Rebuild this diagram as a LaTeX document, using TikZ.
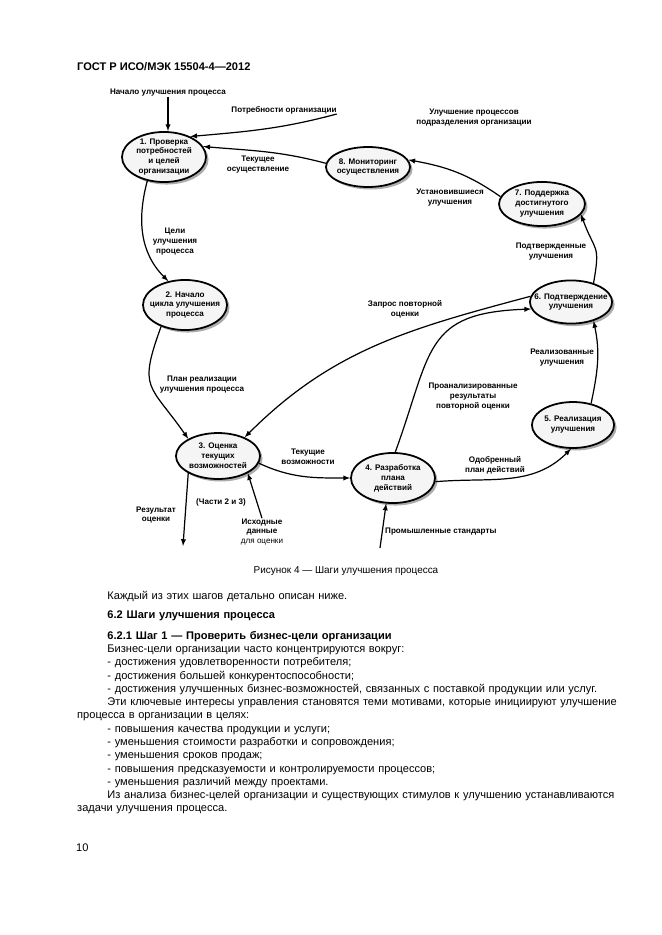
\documentclass[tikz,border=0pt]{standalone}
\usepackage{fontspec}
\setmainfont{Liberation Sans}
\usepackage{tikz}
\usetikzlibrary{shapes.geometric,shadows,arrows}

\begin{document}
\begin{tikzpicture}[x=0.3177mm, y=0.3177mm, >=latex,
  stage/.style={ellipse, draw, line width=1.6pt, fill=gray!8, inner sep=0pt,
    drop shadow={shadow xshift=0.8mm, shadow yshift=-0.8mm, opacity=1, fill=gray!65}},
  lbl/.style={align=center, inner sep=0pt, font=\fontsize{7.3}{9}\selectfont\bfseries},
  flow/.style={line width=1.1pt},
  txt/.style={inner sep=0pt, font=\fontsize{10}{12}\selectfont}]

  \useasboundingbox (0,0) rectangle (661,-935);

  \node[txt, anchor=base west, font=\fontsize{10}{12}\selectfont\bfseries] (head) at (77,-71) {ГОСТ Р ИСО/МЭК 15504-4—2012};

  \node[stage, minimum width=26.7mm, minimum height=15.9mm, label={[lbl]center:{1. Проверка\\потребностей\\и целей\\организации}}] (n1) at (164,-157) {};
  \node[stage, minimum width=26.7mm, minimum height=15.9mm, label={[lbl]center:{2. Начало\\цикла улучшения\\процесса}}] (n2) at (185,-305) {};
  \node[stage, minimum width=26.7mm, minimum height=14.6mm, label={[lbl]center:{3. Оценка\\текущих\\возможностей}}] (n3) at (218,-456) {};
  \node[stage, minimum width=26.7mm, minimum height=15.9mm, label={[lbl]center:{4. Разработка\\плана\\действий}}] (n4) at (393,-478) {};
  \node[stage, minimum width=26.1mm, minimum height=14.6mm, label={[lbl]center:{5. Реализация\\улучшения}}] (n5) at (573,-425) {};
  \node[stage, minimum width=26.1mm, minimum height=13.7mm, label={[lbl]center:{6. Подтверждение\\улучшения}}] (n6) at (571,-302) {};
  \node[stage, minimum width=27.3mm, minimum height=14mm, label={[lbl]center:{7. Поддержка\\достигнутого\\улучшения}}] (n7) at (542,-204) {};
  \node[stage, minimum width=26.7mm, minimum height=12.7mm, label={[lbl]center:{8. Мониторинг\\осуществления}}] (n8) at (368,-167) {};

  \node[lbl] (begin) at (168,-93) {Начало улучшения процесса};
  \node[lbl] (needs) at (284,-110) {Потребности организации};
  \node[lbl] (unit) at (474,-118) {Улучшение процессов\\подразделения организации};
  \node[lbl] (cur) at (258,-165) {Текущее\\осуществление};
  \node[lbl] (settled) at (450,-198) {Установившиеся\\улучшения};
  \node[lbl] (confirmed) at (551,-252) {Подтвержденные\\улучшения};
  \node[lbl] (goals) at (175,-242) {Цели\\улучшения\\процесса};
  \node[lbl] (reassess) at (405,-309) {Запрос повторной\\оценки};
  \node[lbl] (realized) at (562,-358) {Реализованные\\улучшения};
  \node[lbl] (plan) at (202,-385) {План реализации\\улучшения процесса};
  \node[lbl] (analysed) at (473,-397) {Проанализированные\\результаты\\повторной оценки};
  \node[lbl] (capab) at (308,-457) {Текущие\\возможности};
  \node[lbl] (approved) at (495,-465) {Одобренный\\план действий};
  \node[lbl] (parts) at (221,-502) {(Части 2 и 3)};
  \node[lbl] (result) at (156,-515) {Результат\\оценки};
  \node[lbl] (data) at (262,-532) {Исходные\\данные\\{\mdseries для оценки}};
  \node[lbl, anchor=west] (stds) at (385,-532) {Промышленные стандарты};
  \coordinate (res) at (183,-546);
  \coordinate (std) at (380,-548);

  \path[->, flow]
    (begin) edge (begin |- n1.north)
    (needs.south east) edge[out=195, in=5] (n1.38)
    (n8.175) edge[out=165, in=-5] (n1.15)
    (n7.170) edge[out=145, in=-10] (n8.10)
    (n6.40) edge[out=80, in=-70, looseness=1.5] (n7.-15)
    (n5.50) edge[out=78, in=-78] (n6.-40)
    (n4.85) edge[out=70, in=182, looseness=1.4] (n6.190)
    (n6.172) edge[out=195, in=45] (n3.35)
    (n1.235) edge[out=255, in=135] (n2.125)
    (n2.222) edge[out=250, in=125, looseness=1.5] (n3.150)
    (n3.-10) edge[out=-25, in=180] (n4.west)
    (n4.-5) edge[out=5, in=225] (n5.265)
    (n3.210) edge (res)
    (data.north) edge (n3.-30)
    (std) edge (n4.255);

  \node[txt, anchor=base] (cap) at (346,-573) {\fontsize{9}{11}\selectfont Рисунок 4 — Шаги улучшения процесса};

  \node[txt, anchor=base west, text width=170.3mm] (body) at (77,-599.5) {%
    \setlength{\parindent}{9.6mm}\sloppy
    \noindent\hspace*{9.6mm}Каждый из этих шагов детально описан ниже.\par
    \vspace{5.1pt}
    \textbf{6.2\hspace{3.5pt}Шаги улучшения процесса}\par
    \vspace{6.9pt}
    \textbf{6.2.1\hspace{3.5pt}Шаг 1 — Проверить бизнес-цели организации}\par
    Бизнес-цели организации часто концентрируются вокруг:\par
    - достижения удовлетворенности потребителя;\par
    - достижения большей конкурентоспособности;\par
    - достижения улучшенных бизнес-возможностей, связанных с поставкой продукции или услуг.\par
    \indent\hbox to 160.7mm{Эти ключевые интересы управления становятся теми мотивами, которые инициируют улучшение}\par
    \noindent процесса в организации в целях:\par
    - повышения качества продукции и услуги;\par
    - уменьшения стоимости разработки и сопровождения;\par
    - уменьшения сроков продаж;\par
    - повышения предсказуемости и контролируемости процессов;\par
    - уменьшения различий между проектами.\par
    \indent\hbox to 160.7mm{Из анализа бизнес-целей организации и существующих стимулов к улучшению устанавливаются}\par
    \noindent задачи улучшения процесса.};

  \node[txt, anchor=base west] (pnum) at (76,-851) {10};
\end{tikzpicture}
\end{document}
